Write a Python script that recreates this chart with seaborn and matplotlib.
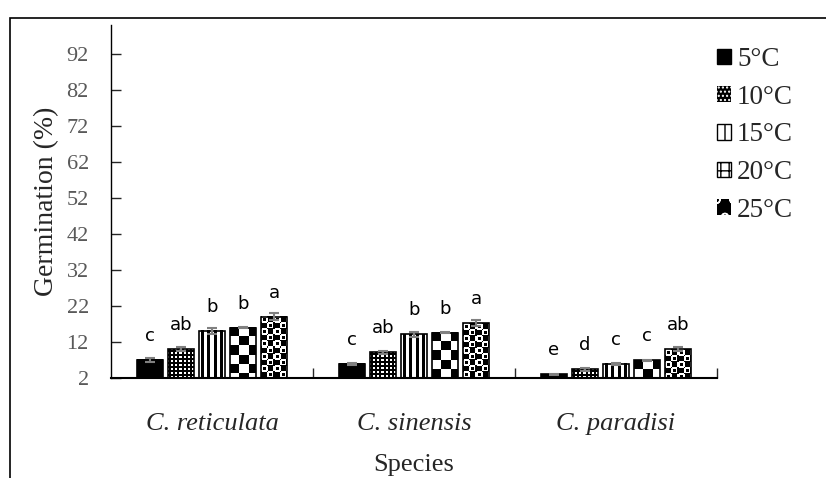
import numpy as np
import pandas as pd
import matplotlib
matplotlib.use("Agg")
import matplotlib.pyplot as plt
import seaborn as sns
from matplotlib.patches import Patch, Rectangle

# values
species = ["C. reticulata", "C. sinensis", "C. paradisi"]
temps = ["5°C", "10°C", "15°C", "20°C", "25°C"]

germ_reticulata = [7.0, 10.0, 15.1, 16.0, 19.0]
germ_sinensis = [5.9, 9.1, 14.1, 14.6, 17.2]
germ_paradisi = [3.0, 4.4, 5.9, 6.9, 10.0]

err_reticulata = [0.5, 0.5, 0.8, 0.2, 1.0]
err_sinensis = [0.4, 0.5, 0.7, 0.2, 0.8]
err_paradisi = [0.2, 0.4, 0.3, 0.2, 0.6]

letters_reticulata = ["c", "ab", "b", "b", "a"]
letters_sinensis = ["c", "ab", "b", "b", "a"]
letters_paradisi = ["e", "d", "c", "c", "ab"]

rows = []
for sp, vals, errs, lets in zip(species,
                                [germ_reticulata, germ_sinensis, germ_paradisi],
                                [err_reticulata, err_sinensis, err_paradisi],
                                [letters_reticulata, letters_sinensis, letters_paradisi]):
    for t, v, e, l in zip(temps, vals, errs, lets):
        rows.append({"species": sp, "temp": t, "germ": v, "err": e, "letter": l})
df = pd.DataFrame(rows)

sns.set_style("white")
plt.rcParams["font.family"] = ["Liberation Serif", "DejaVu Serif"]

W, H = 826, 478
fig = plt.figure(figsize=(W / 100, H / 100), dpi=100)
ax = fig.add_axes([111 / W, 1 - 378 / H, (717 - 111) / W, (378 - 25) / H])

sns.barplot(data=df, x="species", y="germ", hue="temp", order=species,
            hue_order=temps, palette=["white"] * 5, errorbar=None,
            width=0.767, gap=0.18, edgecolor="black", linewidth=1.2,
            legend=False, ax=ax)

ax.set_xlim(-0.5, 2.5)
ax.set_ylim(2, 100)


def make_pattern(level, h, w):
    ii, jj = np.mgrid[0:h, 0:w]
    if level == "5°C":
        return np.zeros((h, w))
    if level == "10°C":
        return ((((ii + 1) % 4) < 2) & (((jj + 1) % 4) < 2)).astype(float)
    if level == "15°C":
        return (((jj - 2) % 6) >= 3).astype(float)
    if level == "20°C":
        return (((ii // 9) + (jj // 9)) % 2).astype(float)
    a = ii % 12
    b = jj % 12
    d1 = (a - 3) ** 2 + (b - 3) ** 2
    d2 = (a - 9) ** 2 + (b - 9) ** 2
    white = (d1 <= 14) | (d2 <= 14)
    dot = (d1 <= 2) | (d2 <= 2)
    return (white & ~dot).astype(float)


# fill each bar with its texture, keep the seaborn bar as outline
for level, cont in zip(temps, ax.containers):
    for j, bar in enumerate(cont):
        x0, w, h = bar.get_x(), bar.get_width(), bar.get_height()
        p0 = ax.transData.transform((x0, 2))
        p1 = ax.transData.transform((x0 + w, h))
        wpx = max(int(round(p1[0] - p0[0])), 1)
        hpx = max(int(round(p1[1] - p0[1])), 1)
        ax.imshow(make_pattern(level, hpx, wpx), cmap="gray", vmin=0, vmax=1,
                  extent=(x0, x0 + w, 2, h), origin="upper", aspect="auto",
                  interpolation="nearest", zorder=2)
        bar.set_facecolor("none")
        bar.set_zorder(3)

        row = df[(df["species"] == species[j]) & (df["temp"] == level)].iloc[0]
        ax.errorbar(x0 + w / 2, h, yerr=row["err"], color="#808080",
                    elinewidth=1.5, capsize=3.5, capthick=1.5, zorder=4)
        ax.annotate(row["letter"], (x0 + w / 2, h), xytext=(0, 15),
                    textcoords="offset pixels", ha="center", va="bottom",
                    fontsize=13, family="DejaVu Sans", color="black")

ax.set_xlim(-0.5, 2.5)
ax.set_ylim(2, 100)

ax.set_yticks(range(2, 93, 10))
ax.tick_params(axis="y", direction="in", length=7, width=1, left=True,
               labelsize=16, labelcolor="#595959", pad=16)
ax.set_xticks([0, 1, 2], species, fontstyle="italic")
ax.set_xticks([0.5, 1.5, 2.5], minor=True)
ax.tick_params(axis="x", which="major", length=0, labelsize=19, pad=25)
ax.tick_params(axis="x", which="minor", direction="in", length=7, width=1,
               bottom=True)

for side in ["top", "right"]:
    ax.spines[side].set_visible(False)
ax.spines["left"].set_color("black")
ax.spines["left"].set_linewidth(1.0)
ax.spines["bottom"].set_color("black")
ax.spines["bottom"].set_linewidth(1.5)

ax.set_xlabel("Species", fontsize=19, labelpad=14)
ax.set_ylabel("Germination (%)", fontsize=20, labelpad=5)

handles = [
    Patch(facecolor="black", edgecolor="black"),
    Patch(facecolor="black", edgecolor="white", hatch="....", linewidth=0),
    Patch(facecolor="white", edgecolor="black", hatch="|"),
    Patch(facecolor="white", edgecolor="black", hatch="++"),
    Patch(facecolor="black", edgecolor="white", hatch="o", linewidth=0),
]
ax.legend(handles, temps, loc="upper left", bbox_to_anchor=(717 / W, 1 - 47 / H),
          bbox_transform=fig.transFigure, frameon=False, fontsize=19.5,
          handlelength=0.52, handleheight=0.52, handletextpad=0.22,
          labelspacing=0.47, borderpad=0, borderaxespad=0)

# outer frame around the whole chart area
fig.add_artist(Rectangle((10 / W, -0.1), 1.0, (H - 18) / H + 0.1,
                         transform=fig.transFigure, fill=False,
                         edgecolor="black", linewidth=1.2))

fig.savefig("out.png", dpi=100)
plt.close(fig)
